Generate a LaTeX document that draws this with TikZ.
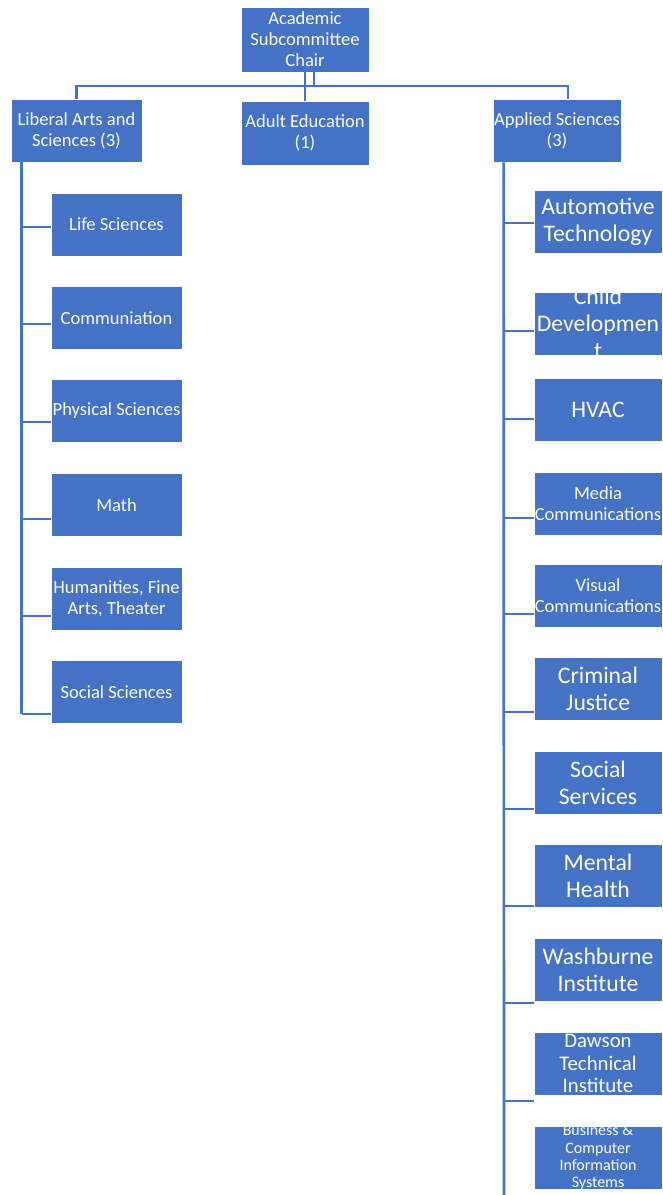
\documentclass[tikz,border=0pt]{standalone}
\usepackage{fontspec}
\setmainfont{Carlito}
\usetikzlibrary{calc}

\definecolor{boxblue}{RGB}{68,114,196}

\tikzset{every picture/.style={line width=0.75pt}}
\tikzset{
  unitbox/.style={draw=white, line width=0.6pt, fill=boxblue, text=white, align=center, inner sep=0pt,
    minimum width=96pt, minimum height=47.25pt, font=\fontsize{13.9}{15.75}\selectfont},
  wideunit/.style={unitbox, minimum width=98.25pt},
  bigtext/.style={font=\fontsize{17.8}{20.25}\selectfont},
  midtext/.style={font=\fontsize{15.6}{16.9}\selectfont},
  smalltext/.style={font=\fontsize{12}{13}\selectfont},
  cliptext/.style={text=white, align=center, inner sep=0pt},
  link/.style={draw=boxblue, line width=2pt},
}

\begin{document}
\begin{tikzpicture}[x=0.75pt,y=0.75pt,yscale=-1,xscale=1]
\useasboundingbox (0,0) rectangle (663,1195);

% top rows
\node [unitbox, minimum height=48.75pt] (chair) at (305,39.5) {Academic\\Subcommittee\\Chair};
\node [wideunit] (liberal) at (76.5,130.5) {Liberal Arts and\\Sciences (3)};
\node [unitbox, minimum height=48pt] (adult) at (305,133) {Adult Education\\(1)};
\node [unitbox] (applied) at (557,130.5) {Applied Sciences\\(3)};

\coordinate (bus) at (314,86);
\coordinate (rdrop) at ($(applied.north)+(11,0)$);
\draw [link] (chair.south -| bus) -- (bus);
\draw [link] (chair.south) -- (adult.north);
\draw [link] (liberal.north) -- (liberal.north |- bus) -- (rdrop |- bus) -- (rdrop);

% liberal arts and sciences
\node [wideunit] (lifesci) at (116.5,224.5) {Life Sciences};
\node [wideunit] (commun) at (116.5,318) {Communiation};
\node [wideunit] (physsci) at (116.5,411) {Physical Sciences};
\node [wideunit] (math) at (116.5,505) {Math};
\node [wideunit] (humanities) at (116.5,599) {Humanities, Fine\\Arts, Theater};
\node [wideunit] (socsci) at (116.5,692) {Social Sciences};

\coordinate (lspine) at ($(liberal.south west)+(11,0)$);
\draw [link] ($(lifesci.west)+(0,2.5)$) coordinate (lifeend) -- (lifeend -| lspine);
\draw [link] ($(commun.west)+(0,6)$) coordinate (communend) -- (communend -| lspine);
\draw [link] ($(physsci.west)+(0,11)$) coordinate (physend) -- (physend -| lspine);
\draw [link] ($(math.west)+(0,14)$) coordinate (mathend) -- (mathend -| lspine);
\draw [link] ($(humanities.west)+(0,17)$) coordinate (humend) -- (humend -| lspine);
\draw [link] ($(socsci.west)+(0,22)$) coordinate (socend) -- (socend -| lspine);
\draw [link] (lspine) -- (lspine |- socend);

% applied sciences
\node [unitbox, bigtext] (auto) at (598,221.5) {Automotive\\Technology};
\node [unitbox] (childdev) at (598,323.5) {};
\begin{scope}
\clip (childdev.south west) rectangle (childdev.north east);
\node [cliptext, bigtext] (childtxt) at (childdev) {Child\\Developmen\\t};
\end{scope}
\node [unitbox, bigtext] (hvac) at (598,409.5) {HVAC};
\node [unitbox] (media) at (598,503.5) {Media\\Communications};
\node [unitbox] (visual) at (598,595.5) {Visual\\Communications};
\node [unitbox, bigtext] (criminal) at (598,689) {Criminal\\Justice};
\node [unitbox, bigtext] (socserv) at (598,783) {Social\\Services};
\node [unitbox, bigtext] (mental) at (598,876) {Mental\\Health};
\node [unitbox, bigtext] (washburne) at (598,970) {Washburne\\Institute};
\node [unitbox, midtext] (dawson) at (598,1063.5) {Dawson\\Technical\\Institute};
\node [unitbox] (business) at (598,1157.5) {};
\begin{scope}
\clip (business.south west) rectangle (business.north east);
\node [cliptext, smalltext] (businesstxt) at (business) {Business \&\\Computer\\Information\\Systems};
\end{scope}

\coordinate (rspine) at ($(applied.south west)+(11,0)$);
\coordinate (rend) at (504,1195);
\draw [link] (rspine) -- (rend);
\draw [link] ($(auto.west)+(0,1.5)$) coordinate (autoend) -- (autoend -| rspine);
\draw [link] ($(childdev.west)+(0,7.5)$) coordinate (childend) -- (childend -| rspine);
\draw [link] ($(hvac.west)+(0,9.5)$) coordinate (hvacend) -- (hvacend -| rspine);
\draw [link] ($(media.west)+(0,14.5)$) coordinate (mediaend) -- (mediaend -| rspine);
\draw [link] ($(visual.west)+(0,18.5)$) coordinate (visualend) -- (visualend -| rspine);
\draw [link] ($(criminal.west)+(0,23)$) coordinate (crimend) -- (crimend -| rspine);
\draw [link] ($(socserv.west)+(0,26)$) coordinate (servend) -- (servend -| rspine);
\draw [link] ($(mental.west)+(0,30)$) coordinate (mentalend) -- (mentalend -| rspine);
\draw [link] ($(washburne.west)+(0,33)$) coordinate (washend) -- (washend -| rspine);
\draw [link] ($(dawson.west)+(0,37.5)$) coordinate (dawsonend) -- (dawsonend -| rspine);

\end{tikzpicture}
\end{document}
